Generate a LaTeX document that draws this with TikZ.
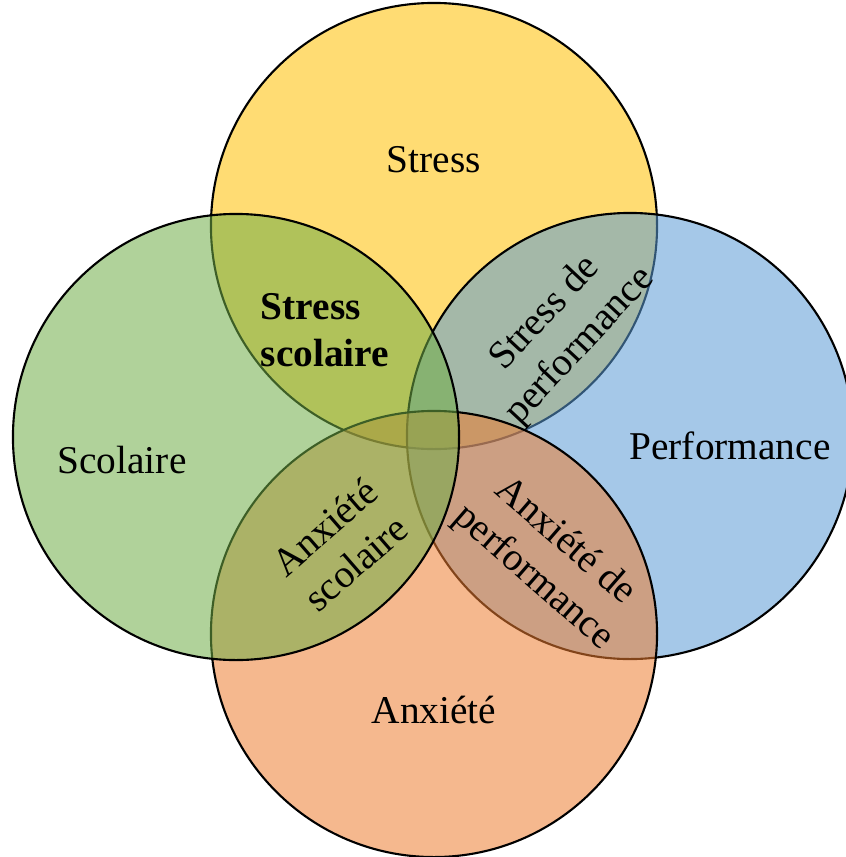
\documentclass[tikz,border=0pt]{standalone}
\usepackage{fontspec}
\setmainfont{Liberation Serif}
\definecolor{vyellow}{HTML}{FFC000}
\definecolor{vgreen}{HTML}{70AD47}
\definecolor{vblue}{HTML}{5B9BD5}
\definecolor{vorange}{HTML}{ED7D31}
\begin{document}
\begin{tikzpicture}[x=0.025cm, y=-0.025cm,
  set/.style={draw, circle, line width=1.5pt, minimum size=11.15cm, inner sep=0pt, fill opacity=0.55},
  lbl/.style={font=\fontsize{28}{34}\selectfont, align=center},
  blbl/.style={font=\fontsize{28}{33}\selectfont\bfseries, align=left}]
\clip (0,0) rectangle (846,857);

\node[set, fill=vyellow] (stress) at (434,226) {};
\node[set, fill=vblue] (perf) at (630,436) {};
\node[set, fill=vorange] (anx) at (434,634) {};
\node[set, fill=vgreen] (scol) at (236,437) {};

\node[lbl] (t1) at (434,160) {Stress};
\node[lbl] (t2) at (122,460) {Scolaire};
\node[lbl] (t3) at (730,446) {Performance};
\node[lbl] (t4) at (434,710) {Anxiété};

\node[blbl] (ss) at (325,330) {Stress\\scolaire};
\node[lbl, rotate=47] (sp) at (563,330) {Stress de\\performance};
\node[lbl, rotate=41] (as) at (340,545) {Anxiété\\scolaire};
\node[lbl, rotate=-41] (ap) at (549,560) {Anxiété de\\performance};
\end{tikzpicture}
\end{document}
